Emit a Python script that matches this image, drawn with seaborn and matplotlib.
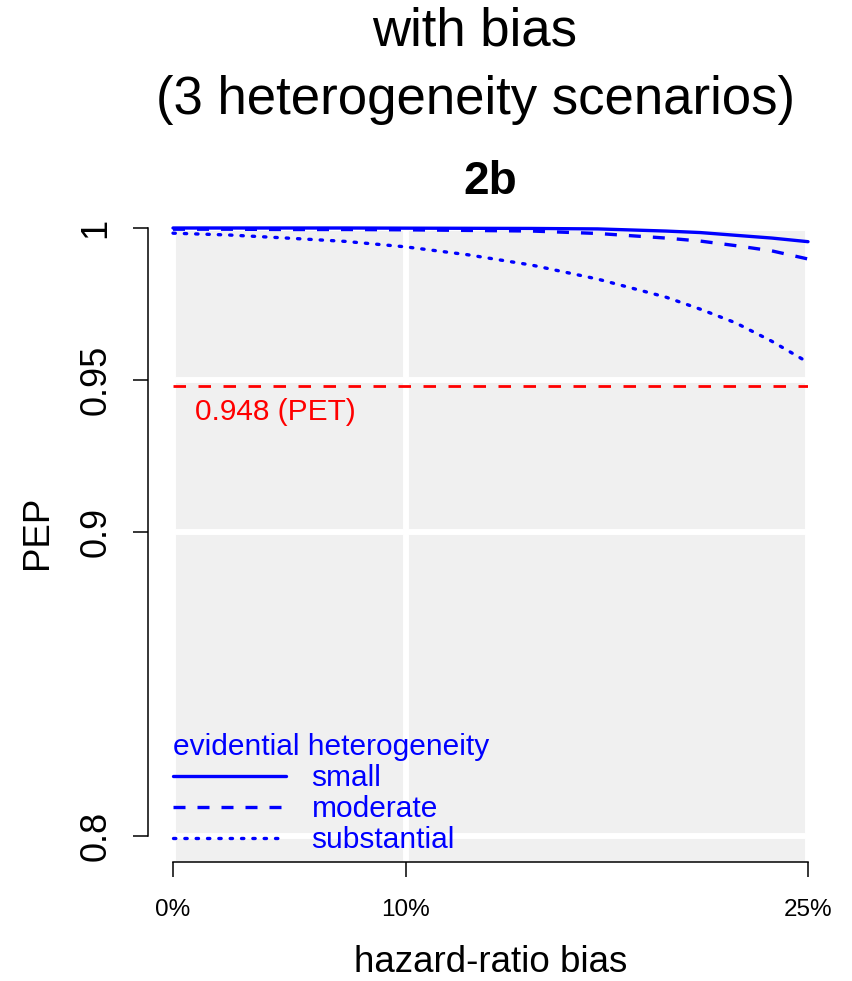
import numpy as np
import pandas as pd
import matplotlib
matplotlib.use("Agg")
import matplotlib.pyplot as plt
import seaborn as sns

# ---- data ----
bias = [0.0, 0.025, 0.05, 0.075, 0.10, 0.125, 0.15, 0.175, 0.20, 0.2125, 0.225, 0.2375, 0.25]
pep_small = [1.0000, 1.0000, 1.0000, 1.0000, 0.99995, 0.9999, 0.99985, 0.9997, 0.9990, 0.9985, 0.9976, 0.9967, 0.9955]
pep_moderate = [0.9996, 0.9996, 0.9995, 0.9995, 0.9994, 0.9992, 0.9990, 0.9982, 0.9967, 0.9957, 0.9942, 0.9925, 0.9898]
pep_substantial = [0.9983, 0.9977, 0.9967, 0.9956, 0.9938, 0.9912, 0.9878, 0.9832, 0.9773, 0.9733, 0.9688, 0.9628, 0.9558]
scenarios = ["small", "moderate", "substantial"]
pet_value = 0.948
pet_label = "0.948 (PET)"
x_ticks = [0.0, 0.10, 0.25]
x_ticklabels = ["0%", "10%", "25%"]
y_ticks = [0.8, 0.9, 0.95, 1.0]
y_ticklabels = ["0.8", "0.9", "0.95", "1"]

df = pd.DataFrame({
    "bias": bias * 3,
    "PEP": pep_small + pep_moderate + pep_substantial,
    "heterogeneity": sum([[s] * len(bias) for s in scenarios], []),
})

sns.set_style("white")
plt.rcParams["font.family"] = ["Liberation Sans", "DejaVu Sans"]
plt.rcParams["text.color"] = "black"
plt.rcParams["axes.labelcolor"] = "black"
plt.rcParams["xtick.color"] = "black"
plt.rcParams["ytick.color"] = "black"

W, H = 852, 981
fig = plt.figure(figsize=(W / 100, H / 100), dpi=100)
L, R, T, B = 173, 808, 228, 862
ax = fig.add_axes([L / W, 1 - B / H, (R - L) / W, (B - T) / H])
ax.set_facecolor("#f0f0f0")

def fwd(b):
    b = np.clip(np.asarray(b, dtype=float), -0.99, 0.99)
    return -np.log(1 - b)

def inv(t):
    return 1 - np.exp(-np.asarray(t, dtype=float))

ax.set_xscale("function", functions=(fwd, inv))

blue = "#0000ff"
dash_map = {"small": "", "moderate": (3.6, 3.6), "substantial": (0.7, 2.7)}
sns.lineplot(data=df, x="bias", y="PEP", style="heterogeneity", dashes=dash_map,
             style_order=scenarios, color=blue, linewidth=2.4, legend=False,
             ax=ax, zorder=5, clip_on=False)
for ln in ax.get_lines()[:3]:
    ln.set_dash_capstyle("butt")
ax.get_lines()[2].set_dash_capstyle("round")

ax.axhline(pet_value, color="red", lw=2.0, dashes=(4.5, 4.5), zorder=4)
ax.text(0.0099, 0.9395, pet_label, color="red", fontsize=21.5, ha="left", va="center")

ax.set_xlim(0, 0.25)
ax.set_ylim(0.79145, 1.0)
ax.set_xticks(x_ticks)
ax.set_xticklabels(x_ticklabels)
ax.set_yticks(y_ticks)
ax.set_yticklabels(y_ticklabels)
ax.grid(True, color="white", lw=4.3, zorder=1)
ax.set_axisbelow(True)

for s in ["top", "right"]:
    ax.spines[s].set_visible(False)
ax.spines["left"].set_position(("outward", 18))
ax.spines["left"].set_bounds(0.8, 1.0)
for s in ["left", "bottom"]:
    ax.spines[s].set_color("black")
    ax.spines[s].set_linewidth(1.1)
ax.tick_params(axis="y", left=True, length=10.8, width=1.1, pad=14, labelsize=26,
               color="black", labelcolor="black", labelrotation=90)
ax.tick_params(axis="x", bottom=True, length=10.8, width=1.1, pad=16, labelsize=17.5,
               color="black", labelcolor="black")
for lab in ax.get_yticklabels():
    lab.set_verticalalignment("center")

ax.set_xlabel("hazard-ratio bias", fontsize=26.5, va="center")
ax.xaxis.set_label_coords(0.5, (B - 963) / (B - T))
ax.set_ylabel("PEP", fontsize=26.4, va="center")
ax.yaxis.set_label_coords((38 - L) / (R - L), (B - 532) / (B - T))

ax.set_title("2b", fontsize=33, fontweight="bold", y=(B - 182) / (B - T), pad=0, va="center")

fig.text(475 / W, 1 - 32 / H, "with bias", fontsize=38, ha="center", va="center")
fig.text(475 / W, 1 - 100 / H, "(3 heterogeneity scenarios)", fontsize=38, ha="center", va="center")

handles = ax.get_lines()[:3]
leg = ax.legend(handles, scenarios, title="evidential heterogeneity", loc="lower left",
                bbox_to_anchor=(0.0, (B - 854) / (B - T)), borderaxespad=0, borderpad=0,
                frameon=False, fontsize=21.5, title_fontsize=21.5, labelcolor=blue,
                handlelength=3.8, handletextpad=0.84, labelspacing=0.1,
                alignment="left")
leg.get_title().set_color(blue)

fig.savefig("out.png", dpi=100)
